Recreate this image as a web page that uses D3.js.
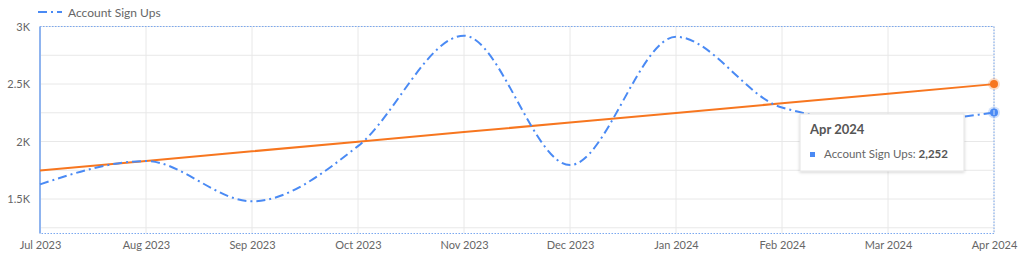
<!DOCTYPE html>
<html>
<head>
<meta charset="utf-8">
<script src="https://cdn.jsdelivr.net/npm/d3@7"></script>
<style>
  body { margin: 0; background: #fff; font-family: Lato, "Open Sans", sans-serif; }
  .tick text { fill: #666; font-size: 11px; font-family: Lato, sans-serif; }
</style>
</head>
<body>
<div class="chart"></div>
<script>
// data
var months = ["Jul 2023", "Aug 2023", "Sep 2023", "Oct 2023", "Nov 2023", "Dec 2023",
  "Jan 2024", "Feb 2024", "Mar 2024", "Apr 2024"];
var signUps = [1627, 1830, 1480, 1960, 2920, 1795, 2910, 2295, 2165, 2252];
var gridTicks = [1250, 1500, 1750, 2000, 2250, 2500, 2750, 3000];
var labelTicks = [1500, 2000, 2500, 3000];
var seriesName = "Account Sign Ups";

var svgWidth = 1031;
var svgHeight = 256;

var margin = { top: 26.5, right: 37, bottom: 22.5, left: 40 };
var chartWidth = svgWidth - margin.left - margin.right;
var chartHeight = svgHeight - margin.top - margin.bottom;

var blue = "#4a8af4";
var orange = "#f7761f";

var svg = d3.select(".chart")
  .append("svg")
  .attr("width", svgWidth)
  .attr("height", svgHeight);

var defs = svg.append("defs");
var shadow = defs.append("filter").attr("id", "shadow")
  .attr("x", "-10%").attr("y", "-20%").attr("width", "120%").attr("height", "150%");
shadow.append("feDropShadow")
  .attr("dx", 0).attr("dy", 1).attr("stdDeviation", 1.5)
  .attr("flood-color", "#000").attr("flood-opacity", 0.18);

var chartGroup = svg.append("g")
  .attr("transform", `translate(${margin.left}, ${margin.top})`);

var xScale = d3.scalePoint()
  .domain(months)
  .range([0, chartWidth])
  .padding(0);

var yScale = d3.scaleLinear()
  .domain([1200, 3000])
  .range([chartHeight, 0]);

// gridlines
chartGroup.append("g")
  .selectAll("line.h")
  .data(gridTicks)
  .enter()
  .append("line")
  .attr("x1", 0)
  .attr("x2", chartWidth)
  .attr("y1", d => yScale(d))
  .attr("y2", d => yScale(d))
  .attr("stroke", "#e8e8e8")
  .attr("stroke-width", 1);

chartGroup.append("g")
  .selectAll("line.v")
  .data(months)
  .enter()
  .append("line")
  .attr("x1", d => xScale(d))
  .attr("x2", d => xScale(d))
  .attr("y1", 0)
  .attr("y2", chartHeight)
  .attr("stroke", "#e8e8e8")
  .attr("stroke-width", 1);

// dotted frame (top, right, bottom)
var frame = d3.path();
frame.moveTo(0, 0);
frame.lineTo(chartWidth, 0);
frame.lineTo(chartWidth, chartHeight);
frame.lineTo(0, chartHeight);
chartGroup.append("path")
  .attr("d", frame.toString())
  .attr("fill", "none")
  .attr("stroke", "#7aa8f0")
  .attr("stroke-width", 1)
  .attr("stroke-dasharray", "1.5,1.5");

// axes
var bottomAxis = d3.axisBottom(xScale).tickSize(0).tickPadding(8);
var xAxis = chartGroup.append("g")
  .attr("transform", `translate(0, ${chartHeight})`)
  .call(bottomAxis);
xAxis.select(".domain").remove();

var leftAxis = d3.axisLeft(yScale)
  .tickValues(labelTicks)
  .tickSize(0)
  .tickPadding(10)
  .tickFormat(d => d3.format("~s")(d).replace("k", "K"));
var yAxis = chartGroup.append("g").call(leftAxis);
yAxis.select(".domain").remove();

chartGroup.append("line")
  .attr("x1", 0).attr("x2", 0)
  .attr("y1", 0).attr("y2", chartHeight)
  .attr("stroke", "#8fb4ef")
  .attr("stroke-width", 2);

// trend line (least squares over the series)
var n = signUps.length;
var meanX = d3.mean(signUps, (d, i) => i);
var meanY = d3.mean(signUps);
var sxy = d3.sum(signUps, (d, i) => (i - meanX) * (d - meanY));
var sxx = d3.sum(signUps, (d, i) => (i - meanX) * (i - meanX));
var slope = sxy / sxx;
var trend = signUps.map((d, i) => meanY + slope * (i - meanX));

var lineGen = d3.line()
  .x((d, i) => xScale(months[i]))
  .y(d => yScale(d));

chartGroup.append("path")
  .datum(trend)
  .attr("d", lineGen)
  .attr("fill", "none")
  .attr("stroke", orange)
  .attr("stroke-width", 2);

chartGroup.append("path")
  .datum(signUps)
  .attr("d", lineGen.curve(d3.curveMonotoneX))
  .attr("fill", "none")
  .attr("stroke", blue)
  .attr("stroke-width", 2)
  .attr("stroke-dasharray", "9,4,2,4");

// hovered markers on last point
var last = n - 1;
chartGroup.append("circle")
  .attr("cx", xScale(months[last]))
  .attr("cy", yScale(trend[last]))
  .attr("r", 6)
  .attr("fill", orange)
  .attr("opacity", 0.25);
chartGroup.append("circle")
  .attr("cx", xScale(months[last]))
  .attr("cy", yScale(trend[last]))
  .attr("r", 4)
  .attr("fill", orange);

chartGroup.append("circle")
  .attr("cx", xScale(months[last]))
  .attr("cy", yScale(signUps[last]))
  .attr("r", 6)
  .attr("fill", blue)
  .attr("opacity", 0.25);
chartGroup.append("circle")
  .attr("cx", xScale(months[last]))
  .attr("cy", yScale(signUps[last]))
  .attr("r", 4)
  .attr("fill", blue);
chartGroup.append("line")
  .attr("x1", xScale(months[last]))
  .attr("x2", xScale(months[last]))
  .attr("y1", yScale(signUps[last]) - 2.5)
  .attr("y2", yScale(signUps[last]) + 2.5)
  .attr("stroke", "#cfe0fb")
  .attr("stroke-width", 1);

// tooltip
var tip = svg.append("g")
  .attr("transform", "translate(800, 114)");
tip.append("rect")
  .attr("width", 164)
  .attr("height", 57)
  .attr("fill", "#fff")
  .attr("stroke", "#e4e4e4")
  .attr("filter", "url(#shadow)");
tip.append("text")
  .attr("x", 10)
  .attr("y", 20)
  .attr("font-size", "13px")
  .attr("font-weight", "bold")
  .attr("fill", "#555")
  .text(months[last]);
tip.append("rect")
  .attr("x", 10)
  .attr("y", 38)
  .attr("width", 5)
  .attr("height", 5)
  .attr("fill", blue);
var tipText = tip.append("text")
  .attr("x", 24)
  .attr("y", 44)
  .attr("font-size", "11.5px")
  .attr("fill", "#666");
tipText.append("tspan").text(seriesName + ": ");
tipText.append("tspan")
  .attr("font-weight", "bold")
  .attr("fill", "#555")
  .text(d3.format(",")(signUps[last]));

// legend
var legend = svg.append("g").attr("transform", "translate(38, 12)");
legend.append("line")
  .attr("x1", 0).attr("x2", 24)
  .attr("y1", 0).attr("y2", 0)
  .attr("stroke", blue)
  .attr("stroke-width", 2)
  .attr("stroke-dasharray", "9,4,2,4");
legend.append("text")
  .attr("x", 30)
  .attr("y", 4.5)
  .attr("font-size", "12px")
  .attr("fill", "#666")
  .text(seriesName);
</script>
</body>
</html>
